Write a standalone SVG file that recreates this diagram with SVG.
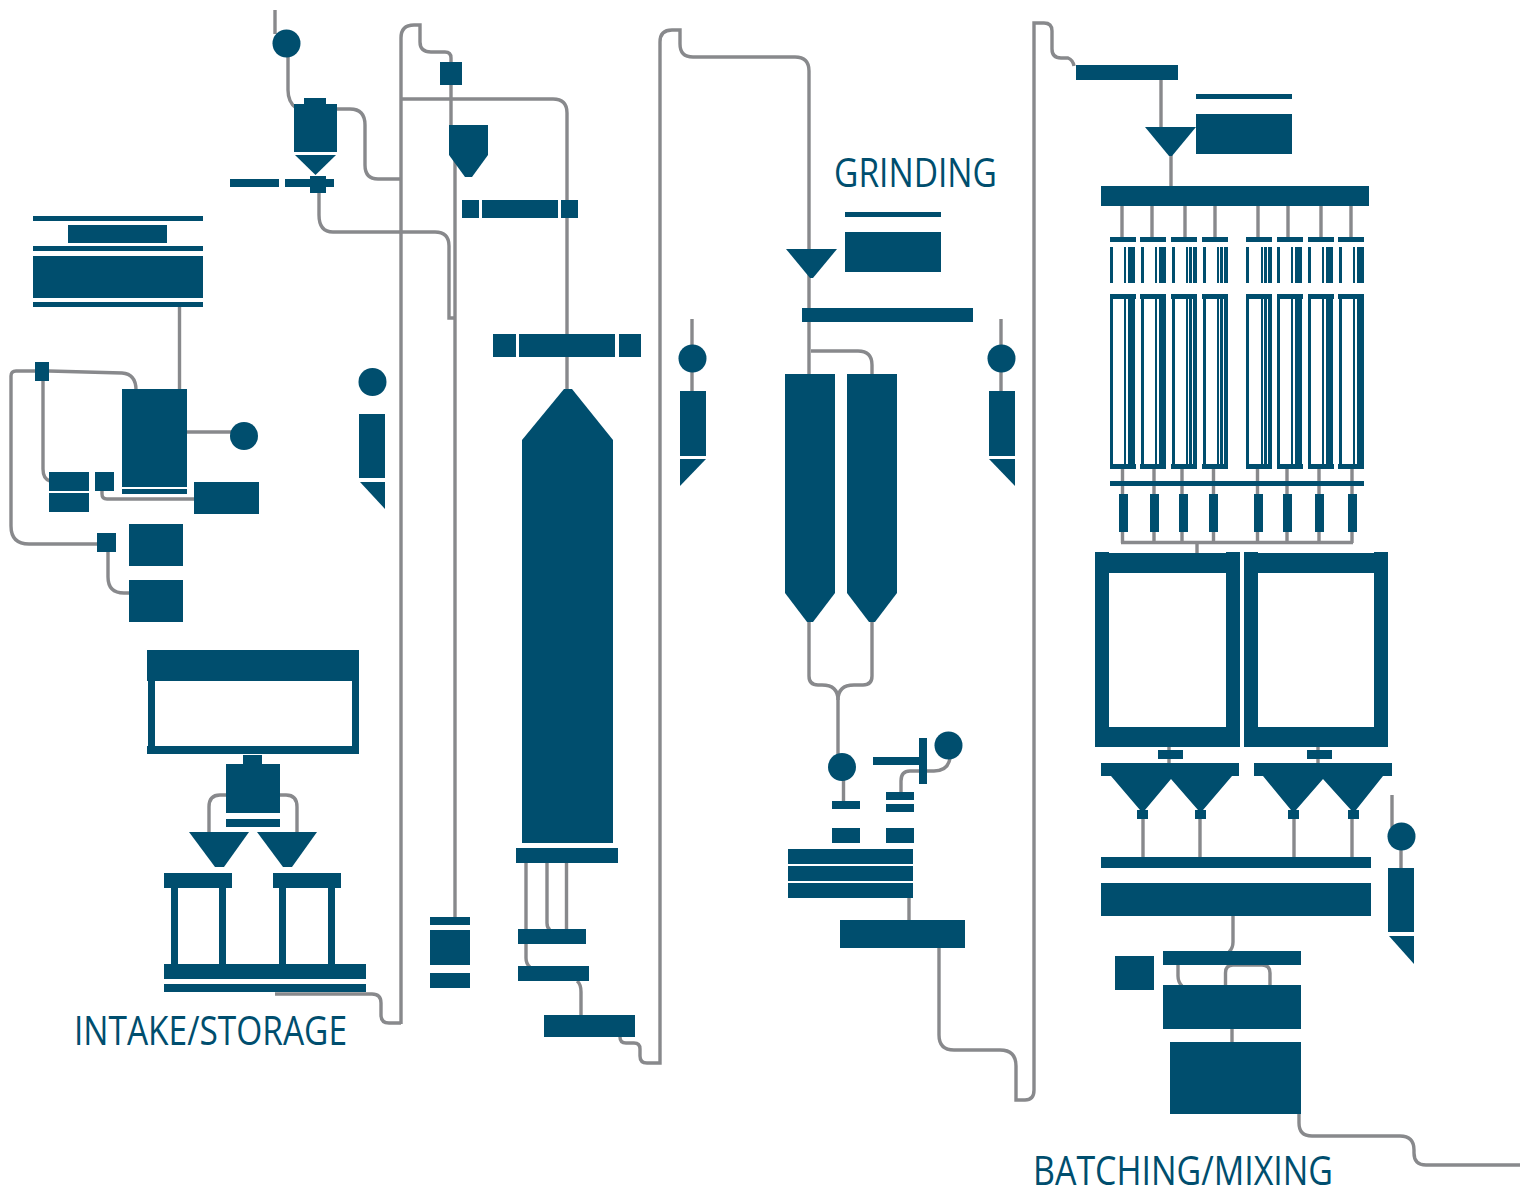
<svg xmlns="http://www.w3.org/2000/svg" xmlns:xlink="http://www.w3.org/1999/xlink" width="1520" height="1186" viewBox="0 0 1520 1186">
<style>
.c{fill:none;stroke:#88898c;stroke-width:3.4}
.n{fill:#004e6e}
text{fill:#004e6e;font-family:"Open Sans","Noto Sans","Liberation Sans",sans-serif;font-size:41px;font-weight:400}
</style>
<defs>
<g id="p1" class="n"><rect x="0" y="247" width="3" height="36"/><rect x="14" y="247" width="2" height="36"/><rect x="18" y="247" width="7" height="36"/><rect x="0" y="299" width="3" height="165"/><rect x="14" y="299" width="2" height="165"/><rect x="18" y="299" width="7" height="165"/></g>
<g id="p2" class="n"><rect x="1" y="247" width="3" height="36"/><rect x="15" y="247" width="2" height="36"/><rect x="19" y="247" width="7" height="36"/><rect x="1" y="299" width="3" height="165"/><rect x="15" y="299" width="2" height="165"/><rect x="19" y="299" width="7" height="165"/></g>
<g id="p3" class="n"><rect x="1" y="247" width="3" height="36"/><rect x="15" y="247" width="2" height="36"/><rect x="18" y="247" width="3" height="36"/><rect x="22" y="247" width="4" height="36"/><rect x="1" y="299" width="3" height="165"/><rect x="15" y="299" width="2" height="165"/><rect x="18" y="299" width="3" height="165"/><rect x="22" y="299" width="4" height="165"/></g>
<g id="p4" class="n"><rect x="0" y="247" width="3" height="36"/><rect x="15" y="247" width="2" height="36"/><rect x="18" y="247" width="3" height="36"/><rect x="22" y="247" width="4" height="36"/><rect x="0" y="299" width="3" height="165"/><rect x="15" y="299" width="2" height="165"/><rect x="18" y="299" width="3" height="165"/><rect x="22" y="299" width="4" height="165"/></g>
<g id="caps" class="n"><rect y="237" width="26" height="5"/><rect y="294" width="26" height="5"/><rect y="464" width="26" height="5"/></g>
</defs>
<rect width="1520" height="1186" fill="#fff"/>
<g id="connectors" class="c">
<path d="M275 10V34"/>
<path d="M288 57V90Q288 102 296 108"/>
<path d="M337 109H350Q365 109 365 125V165Q365 179 378 179H401"/>
<path d="M319 193V215Q319 232 333 232H435Q449 232 449 246V318H454"/>
<path d="M401 1024V38Q401 25 414 25H420V42Q420 52 431 52H445Q451 52 451 58V125"/>
<path d="M455 160V918"/>
<path d="M401 99H553Q567 99 567 113V390"/>
<path d="M526 863V958Q526 964 530 967"/>
<path d="M547 863V923Q547 928 550 930"/>
<path d="M566.500 863V930"/>
<path d="M577 981Q581 984 581 992V1016"/>
<path d="M620 1037Q620 1043 626 1043H634Q640 1043 640 1049V1056Q640 1063 647 1063H660V42Q660 30 672 30H680V44Q680 57 693 57H795Q809 57 809 71V375"/>
<path d="M179.500 307V390"/>
<path d="M43 381V469Q43 479 50 481"/>
<path d="M35 371H16Q11 371 11 376V526Q11 544 29 544H98"/>
<path d="M49 371 122 373Q136 374 136 390"/>
<path d="M102 491V494Q102 499 107 499H195"/>
<path d="M187 432H232"/>
<path d="M108 552V577Q108 593 124 593H130"/>
<path d="M227 795H220Q209 795 209 807V833"/>
<path d="M279 795H286Q297 795 297 807V833"/>
<path d="M275 994H372Q381 994 381 1003V1015Q381 1023 389 1023H401"/>
<path d="M692 319V392"/>
<path d="M1001 319V392"/>
<path d="M811 351H858Q872 351 872 365V375"/>
<path d="M809 621V676Q809 685 818 685H822Q838 685 838 700"/>
<path d="M872 621V676Q872 685 863 685H854Q838 685 838 700V756"/>
<path d="M843.500 780V802"/>
<path d="M950 758Q948 771 934 771H910Q901 771 901 781V793"/>
<path d="M909 897V921"/>
<path d="M939 947V1035Q939 1050 954 1050H1000Q1016 1050 1016 1066V1100H1025Q1034 1100 1034 1090V23H1044Q1052 23 1052 31V49Q1052 58 1061 58H1068Q1073 60 1074 66"/>
<path d="M1161 80V128"/>
<path d="M1171 155V187"/>
<path d="M1122 205V238M1152 205V238M1185 205V238M1215 205V238M1258 205V238M1288 205V238M1321 205V238M1351 205V238"/>
<path d="M1122.500 468V543M1154 468V543M1182 468V543M1213.500 468V543M1257.500 468V543M1287 468V543M1319 468V543M1352 468V543"/>
<path d="M1121 542.500H1353"/>
<path d="M1197 542V554"/>
<path d="M1169 746V764M1318 746V764"/>
<path d="M1143 818V858M1200 818V858M1294 818V858M1352 818V858"/>
<path d="M1233 915V942Q1233 948 1229 952"/>
<path d="M1178 964V976Q1178 982 1182 986"/>
<path d="M1225.500 986V973Q1225.500 965 1233 965H1262Q1270 965 1270 973V986"/>
<path d="M1232 1028V1043"/>
<path d="M1299 1113V1123Q1299 1136 1312 1136H1400Q1414 1136 1414 1150V1153Q1414 1165 1426 1165H1520"/>
<path d="M1392 795V828"/>
<path d="M1401 848V869"/>
</g>
<g id="feeder" class="n"><circle cx="286.500" cy="43.500" r="14"/><rect x="304" y="98" width="22" height="7"/><rect x="294" y="104" width="43" height="48"/><polygon points="295,155 336,155 315.500,175"/><rect x="230" y="179" width="49" height="8"/><rect x="285" y="179" width="49" height="8"/><rect x="310" y="176" width="16" height="17"/></g>
<g id="top-left-square" class="n"><rect x="440" y="62" width="22" height="23"/></g>
<g id="hopper-1" class="n"><polygon points="449,125 488,125 488,155 472,177 465,177 449,155"/></g>
<g id="bars-1" class="n"><rect x="462" y="200" width="17" height="18"/><rect x="482" y="200" width="76" height="18"/><rect x="561" y="200" width="17" height="18"/></g>
<g id="bars-2" class="n"><rect x="493" y="334" width="23" height="23"/><rect x="519" y="334" width="96" height="23"/><rect x="619" y="334" width="22" height="23"/></g>
<g id="silo-main" class="n"><polygon points="522,440 564,389 572,389 613,440 613,843 522,843"/><rect x="516" y="848" width="102" height="15"/></g>
<g id="silo-outlets" class="n"><rect x="518" y="929" width="68" height="15"/><rect x="518" y="966" width="71" height="15"/><rect x="544" y="1015" width="91" height="22"/></g>
<g id="column-base" class="n"><rect x="430" y="917" width="40" height="8"/><rect x="430" y="930" width="40" height="35"/><rect x="430" y="973" width="40" height="15"/></g>
<g id="stack" class="n"><rect x="33" y="216" width="170" height="5"/><rect x="68" y="225" width="99" height="18"/><rect x="33" y="246" width="170" height="5"/><rect x="33" y="256" width="170" height="42"/><rect x="33" y="302" width="170" height="5"/></g>
<g id="tall-tank" class="n"><rect x="122" y="389" width="65" height="98"/><rect x="122" y="489" width="65" height="5"/><circle cx="244" cy="436" r="14"/></g>
<g id="cluster" class="n"><rect x="35" y="362" width="14" height="19"/><rect x="49" y="472" width="40" height="19"/><rect x="49" y="493" width="40" height="19"/><rect x="95" y="472" width="19" height="19"/><rect x="194" y="482" width="65" height="32"/><rect x="97" y="533" width="19" height="19"/><rect x="129" y="524" width="54" height="42"/><rect x="129" y="580" width="54" height="42"/></g>
<g id="pump-1" class="n"><circle cx="372.500" cy="382" r="14"/><rect x="359" y="414" width="26" height="64"/><polygon points="360,482 385,482 385,509"/></g>
<g id="pump-2" class="n"><circle cx="692.500" cy="358.500" r="14"/><rect x="680" y="391" width="26" height="65"/><polygon points="680,459 706,459 680,486"/></g>
<g id="pump-3" class="n"><circle cx="1001.500" cy="358.500" r="14"/><rect x="989" y="391" width="26" height="65"/><polygon points="989,459 1015,459 1015,486"/></g>
<g id="pump-4" class="n"><circle cx="1401.500" cy="836.500" r="14"/><rect x="1388" y="868" width="26" height="64"/><polygon points="1389,936 1414,936 1414,964"/></g>
<g id="intake-frame" class="n"><path fill-rule="evenodd" d="M147 650H359V754H147V746H148V681H147ZM155 681V746H352V681Z"/></g>
<g id="intake-block" class="n"><rect x="243" y="755" width="19" height="9"/><rect x="226" y="764" width="54" height="49"/><rect x="226" y="819" width="54" height="8"/></g>
<g id="intake-funnels" class="n"><polygon points="189,832 249,832 224,867 215,867"/><polygon points="257,832 317,832 292,867 283,867"/></g>
<g id="intake-stand" class="n"><rect x="164" y="873" width="68" height="15"/><rect x="273" y="873" width="68" height="15"/><rect x="171" y="888" width="7" height="76"/><rect x="219" y="888" width="7" height="76"/><rect x="279" y="888" width="7" height="76"/><rect x="328" y="888" width="7" height="76"/><rect x="164" y="964" width="202" height="15"/><rect x="164" y="984" width="202" height="8"/></g>
<g id="grinding-feed" class="n"><polygon points="786,249 837,249 813,278 810,278"/><rect x="845" y="212" width="96" height="5"/><rect x="845" y="232" width="96" height="40"/><rect x="802" y="308" width="171" height="14"/></g>
<g id="grinding-silos" class="n"><polygon points="785,374 835,374 835,593 813,622 807,622 785,593"/><polygon points="847,374 897,374 897,593 875,622 869,622 847,593"/></g>
<g id="grinding-mill" class="n"><circle cx="842" cy="767" r="14"/><rect x="873" y="757" width="50" height="8"/><rect x="919" y="738" width="8" height="46"/><circle cx="948.500" cy="745.500" r="14"/><rect x="832" y="801" width="28" height="8"/><rect x="832" y="828" width="28" height="15"/><rect x="886" y="792" width="28" height="8"/><rect x="886" y="804" width="28" height="8"/><rect x="886" y="828" width="28" height="15"/><rect x="788" y="849" width="125" height="15"/><rect x="788" y="866" width="125" height="15"/><rect x="788" y="883" width="125" height="15"/><rect x="840" y="920" width="125" height="28"/></g>
<g id="batching-feed" class="n"><rect x="1076" y="65" width="102" height="15"/><polygon points="1145,127 1196,127 1172,156 1169,156"/><rect x="1196" y="94" width="96" height="5"/><rect x="1196" y="114" width="96" height="40"/><rect x="1101" y="186" width="268" height="20"/></g>
<g id="bins">
<use xlink:href="#caps" href="#caps" x="1110"/><use xlink:href="#p1" href="#p1" x="1110"/>
<use xlink:href="#caps" href="#caps" x="1140"/><use xlink:href="#p2" href="#p2" x="1140"/>
<use xlink:href="#caps" href="#caps" x="1171"/><use xlink:href="#p3" href="#p3" x="1171"/>
<use xlink:href="#caps" href="#caps" x="1202"/><use xlink:href="#p3" href="#p3" x="1202"/>
<use xlink:href="#caps" href="#caps" x="1246"/><use xlink:href="#p4" href="#p4" x="1246"/>
<use xlink:href="#caps" href="#caps" x="1277"/><use xlink:href="#p1" href="#p1" x="1277"/>
<use xlink:href="#caps" href="#caps" x="1308"/><use xlink:href="#p1" href="#p1" x="1308"/>
<use xlink:href="#caps" href="#caps" x="1338"/><use xlink:href="#p2" href="#p2" x="1338"/>
</g>
<g id="valves" class="n"><rect x="1110" y="481" width="254" height="5"/><rect x="1119" y="494" width="9" height="38"/><rect x="1150" y="494" width="9" height="38"/><rect x="1179" y="494" width="9" height="38"/><rect x="1209" y="494" width="9" height="38"/><rect x="1254" y="494" width="9" height="38"/><rect x="1283" y="494" width="9" height="38"/><rect x="1315" y="494" width="9" height="38"/><rect x="1348" y="494" width="9" height="38"/></g>
<g id="batch-frame-1" class="n"><path fill-rule="evenodd" d="M1095 552H1109V553H1226V552H1240V747H1095ZM1109 573V727H1226V573Z"/></g>
<g id="batch-frame-2" class="n"><path fill-rule="evenodd" d="M1244 552H1258V553H1374V552H1388V747H1244ZM1258 573V727H1374V573Z"/></g>
<g id="batch-hoppers-1" class="n"><rect x="1158" y="750" width="25" height="9"/><polygon points="1101,763 1239,763 1239,776 1232,776 1203,810 1206,810 1206,819 1195,819 1195,810 1198,810 1171,779 1145,810 1148,810 1148,819 1137,819 1137,810 1140,810 1111,776 1101,776"/></g>
<g id="batch-hoppers-2" class="n"><rect x="1307" y="750" width="25" height="9"/><polygon points="1254,763 1392,763 1392,776 1383,776 1356,810 1359,810 1359,819 1348,819 1348,810 1351,810 1323,779 1296,810 1299,810 1299,819 1288,819 1288,810 1291,810 1263,776 1254,776"/></g>
<g id="mixer" class="n"><rect x="1101" y="857" width="270" height="11"/><rect x="1101" y="883" width="270" height="33"/><rect x="1163" y="951" width="138" height="14"/><rect x="1115" y="956" width="39" height="34"/><rect x="1163" y="985" width="138" height="44"/><rect x="1170" y="1042" width="131" height="72"/></g>
<text id="label-intake" x="74" y="1045" textLength="273" lengthAdjust="spacingAndGlyphs">INTAKE/STORAGE</text>
<text id="label-grinding" x="834" y="187" textLength="163" lengthAdjust="spacingAndGlyphs">GRINDING</text>
<text id="label-batching" x="1033" y="1185" textLength="300" lengthAdjust="spacingAndGlyphs">BATCHING/MIXING</text>
</svg>
